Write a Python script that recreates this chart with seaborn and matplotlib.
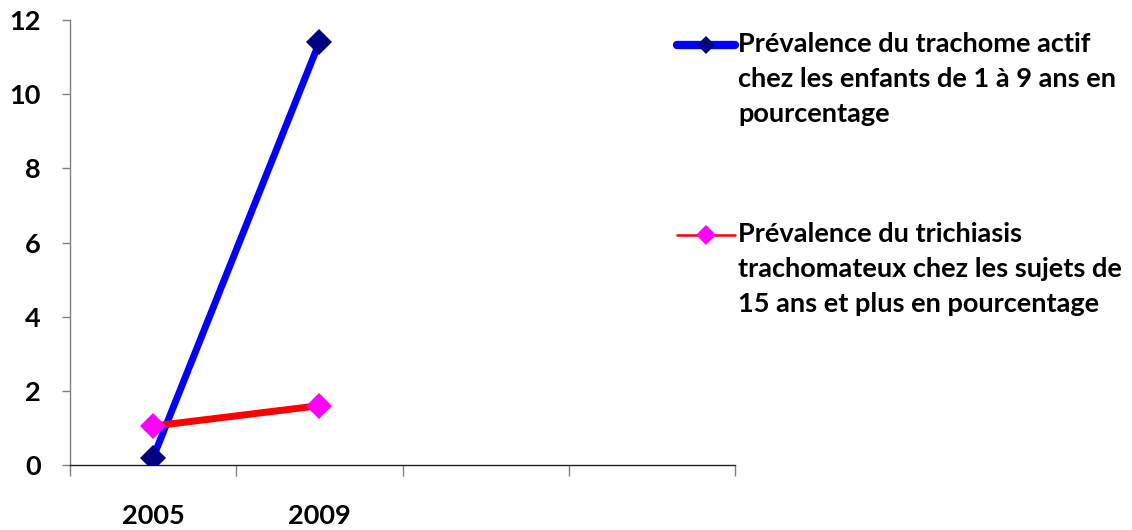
import matplotlib
matplotlib.use("Agg")
import matplotlib.pyplot as plt
from matplotlib.lines import Line2D
import seaborn as sns
import pandas as pd

# Survey years (two further empty category slots follow on the axis)
years = ["2005", "2009"]
n_slots = 4
trachome_actif = [0.2, 11.4]
trichiasis = [1.05, 1.6]
label_trachome = "Prévalence du trachome actif\nchez les enfants de 1 à 9 ans en\npourcentage"
label_trichiasis = "Prévalence du trichiasis\ntrachomateux chez les sujets de\n15 ans et plus en pourcentage"
y_ticks = [0, 2, 4, 6, 8, 10, 12]

sns.set_style("white")
plt.rcParams["font.family"] = ["Lato", "DejaVu Sans"]
plt.rcParams["font.weight"] = "bold"
plt.rcParams["text.color"] = "black"
plt.rcParams["xtick.color"] = "black"
plt.rcParams["ytick.color"] = "black"

df = pd.DataFrame({
    "pos": list(range(len(years))) * 2,
    "value": trachome_actif + trichiasis,
    "serie": ["trachome"] * len(years) + ["trichiasis"] * len(years),
})

W, H = 1132, 530
fig = plt.figure(figsize=(W / 100, H / 100), dpi=100)
ax = fig.add_axes([70 / W, 1 - 465 / H, (735 - 70) / W, (465 - 20) / H])

sns.lineplot(data=df[df.serie == "trachome"], x="pos", y="value", ax=ax,
             color="#0000FF", linewidth=5, marker="D", markersize=13,
             markerfacecolor="#000080", markeredgewidth=0, zorder=3)
sns.lineplot(data=df[df.serie == "trichiasis"], x="pos", y="value", ax=ax,
             color="#FF0000", linewidth=5, marker="D", markersize=13,
             markerfacecolor="#FF00FF", markeredgewidth=0, zorder=4)

ax.set_xlim(-0.5, n_slots - 0.5)
ax.set_ylim(0, 12)
ax.set_xlabel("")
ax.set_ylabel("")

# Category boundaries as major ticks, year labels as minor ticks
ax.set_xticks([i - 0.5 for i in range(n_slots + 1)])
ax.set_xticklabels([])
ax.set_xticks(list(range(len(years))), minor=True)
ax.set_xticklabels(years, minor=True, fontsize=19.5, fontweight="bold", color="black")
ax.tick_params(axis="x", which="major", direction="out", length=8, width=1, color="#808080", bottom=True)
ax.tick_params(axis="x", which="minor", length=0, pad=28)

ax.set_yticks(y_ticks)
ax.set_yticklabels([str(v) for v in y_ticks], fontsize=19.5, fontweight="bold", color="black")
ax.tick_params(axis="y", direction="out", length=6, width=1, color="#808080", left=True, pad=15)

for s in ["top", "right"]:
    ax.spines[s].set_visible(False)
ax.spines["left"].set_color("#808080")
ax.spines["bottom"].set_color("#202020")
ax.spines["left"].set_linewidth(1)
ax.spines["bottom"].set_linewidth(1)

# Legend entries: handle aligned with the first text line
def legend_entry(y_px, color, lw, mcolor, msize, text):
    fy = 1 - y_px / H
    fig.add_artist(Line2D([677 / W, 735 / W], [fy, fy], transform=fig.transFigure,
                          color=color, linewidth=lw, solid_capstyle="round"))
    fig.add_artist(Line2D([706 / W], [fy], transform=fig.transFigure, marker="D",
                          markersize=msize, markerfacecolor=mcolor, markeredgewidth=0,
                          linestyle="none"))
    fig.text(738 / W, 1 - (y_px - 13) / H, text, ha="left", va="top", fontsize=19.5,
             fontweight="bold", linespacing=1.55, color="black",
             transform=fig.transFigure)

legend_entry(45, "#0000FF", 6, "#000080", 9, label_trachome)
legend_entry(235, "#FF0000", 1.8, "#FF00FF", 10, label_trichiasis)

fig.savefig("out.png", dpi=100)
